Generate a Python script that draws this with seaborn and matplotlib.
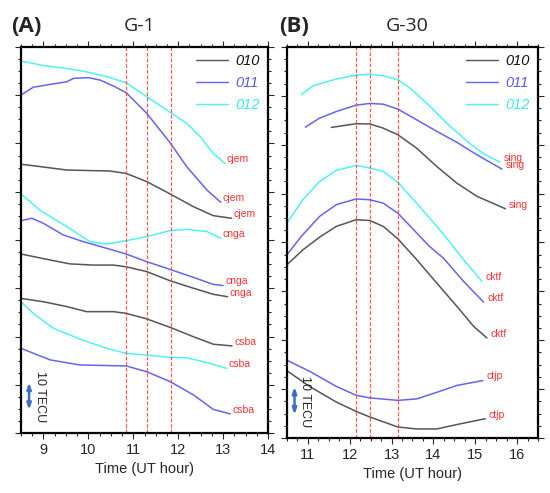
import matplotlib
matplotlib.use("Agg")
import matplotlib.pyplot as plt
import seaborn as sns
from matplotlib.lines import Line2D
from matplotlib.ticker import MultipleLocator

# ---- datos (TEC relativo, unidades arbitrarias) ----
# Panel A (G-1)
cjem_012_t = [8.5, 9.0, 9.52, 9.96, 10.41, 10.84, 11.3, 11.82, 12.19, 12.49, 12.78, 13.04]
cjem_012_v = [154.2, 152.3, 151.1, 149.7, 147.7, 145.2, 139.4, 132.9, 128.4, 122.8, 115.9, 111.8]
cjem_011_t = [8.5, 8.77, 9.15, 9.52, 9.67, 10.0, 10.26, 10.56, 10.84, 11.3, 11.82, 12.19, 12.64, 12.95]
cjem_011_v = [140.1, 143.3, 144.5, 145.6, 147.0, 147.3, 146.3, 143.8, 141.1, 132.5, 120.3, 110.4, 100.7, 95.6]
cjem_010_t = [8.5, 8.77, 9.52, 10.48, 10.84, 11.3, 11.82, 12.34, 12.78, 13.19]
cjem_010_v = [111.4, 110.8, 109.0, 108.6, 107.6, 104.2, 99.1, 93.8, 90.1, 89.0]

cnga_012_t = [8.5, 8.92, 9.52, 10.04, 10.41, 10.84, 11.3, 11.82, 12.19, 12.64, 12.95]
cnga_012_v = [99.1, 92.4, 85.5, 79.3, 78.3, 79.7, 81.4, 83.9, 84.4, 83.5, 80.7]
cnga_011_t = [8.5, 8.74, 9.0, 9.44, 9.89, 10.4, 10.84, 11.3, 11.82, 12.34, 12.78, 13.0]
cnga_011_v = [88.0, 89.0, 86.9, 82.1, 79.3, 76.6, 74.2, 71.0, 67.8, 64.5, 61.6, 61.1]
cnga_010_t = [8.5, 9.15, 9.59, 10.11, 10.56, 10.84, 11.3, 11.82, 12.34, 12.78, 13.1]
cnga_010_v = [74.2, 71.7, 70.1, 69.6, 69.6, 68.9, 66.9, 63.1, 60.0, 57.5, 56.5]

csba_010_t = [8.5, 9.0, 9.52, 9.96, 10.56, 10.84, 11.3, 11.82, 12.34, 12.78, 13.2]
csba_010_v = [55.8, 54.4, 52.4, 50.3, 50.3, 49.6, 47.3, 43.8, 39.9, 36.8, 36.1]
csba_012_t = [8.5, 8.77, 9.22, 9.89, 10.41, 10.84, 11.3, 11.82, 12.19, 12.64, 13.08]
csba_012_v = [54.4, 49.6, 43.4, 38.4, 35.1, 33.0, 32.3, 31.3, 31.2, 29.2, 26.8]
csba_011_t = [8.5, 9.15, 9.81, 10.56, 10.84, 11.3, 11.82, 12.34, 12.78, 13.16]
csba_011_v = [35.1, 30.3, 28.2, 27.9, 27.8, 25.4, 21.3, 15.8, 9.8, 7.9]

# Panel B (G-30)
sing_012_t = [10.84, 11.12, 11.68, 12.15, 12.48, 12.8, 13.15, 13.44, 13.92, 14.4, 14.88, 15.2, 15.59]
sing_012_v = [140.5, 144.1, 146.9, 148.5, 148.9, 148.2, 146.6, 143.2, 135.7, 127.5, 120.4, 116.3, 112.9]
sing_011_t = [10.94, 11.28, 11.68, 12.15, 12.48, 12.8, 13.15, 13.6, 14.08, 14.56, 15.04, 15.64]
sing_011_v = [127.2, 130.9, 133.6, 136.2, 136.9, 136.6, 134.6, 130.2, 125.5, 121.0, 115.9, 110.0]
sing_010_t = [11.56, 12.15, 12.48, 12.8, 13.15, 13.6, 14.08, 14.56, 15.04, 15.72]
sing_010_v = [127.1, 128.6, 128.5, 126.8, 124.1, 118.6, 111.1, 104.3, 98.9, 93.8]

cktf_012_t = [10.5, 10.88, 11.28, 11.68, 12.15, 12.48, 12.8, 13.15, 13.6, 14.08, 14.4, 14.72, 15.16]
cktf_012_v = [88.0, 97.5, 105.0, 109.5, 111.5, 110.5, 109.1, 104.6, 96.1, 86.6, 80.0, 73.0, 64.1]
cktf_011_t = [10.5, 10.84, 11.28, 11.68, 12.15, 12.48, 12.8, 13.15, 13.6, 13.9, 14.24, 14.72, 15.2]
cktf_011_v = [75.0, 82.5, 90.7, 95.5, 97.8, 97.5, 96.1, 92.0, 83.9, 78.5, 73.6, 64.1, 55.6]
cktf_010_t = [10.5, 10.88, 11.28, 11.68, 12.15, 12.48, 12.8, 13.15, 13.6, 14.08, 14.56, 14.96, 15.28]
cktf_010_v = [70.9, 77.0, 82.2, 86.6, 89.3, 89.0, 86.6, 81.5, 73.0, 63.4, 53.9, 45.7, 40.9]

ctjp_011_t = [10.5, 11.04, 11.68, 12.15, 12.48, 13.15, 13.6, 14.08, 14.56, 15.18]
ctjp_011_v = [31.8, 27.3, 21.1, 17.5, 16.4, 15.4, 16.0, 18.7, 21.5, 23.5]
ctjp_010_t = [10.5, 11.04, 11.68, 12.15, 12.48, 13.15, 13.6, 14.08, 14.56, 15.24]
ctjp_010_v = [27.5, 21.1, 14.7, 10.9, 8.6, 4.5, 3.7, 3.7, 5.5, 7.9]

PRN = ["010", "011", "012"]
vlines_a = [10.84, 11.30, 11.83]
vlines_b = [12.15, 12.48, 13.15]

COLORS = {"010": "#555555", "011": "#6464f0", "012": "#4ef2f2"}
TEXT_COLORS = {"010": "#111111", "011": "#5a5ae6", "012": "#3fe8e8"}

curves_a = [
    ("cjem", "012", cjem_012_t, cjem_012_v), ("cjem", "011", cjem_011_t, cjem_011_v),
    ("cjem", "010", cjem_010_t, cjem_010_v), ("cnga", "012", cnga_012_t, cnga_012_v),
    ("cnga", "011", cnga_011_t, cnga_011_v), ("cnga", "010", cnga_010_t, cnga_010_v),
    ("csba", "010", csba_010_t, csba_010_v), ("csba", "012", csba_012_t, csba_012_v),
    ("csba", "011", csba_011_t, csba_011_v),
]
curves_b = [
    ("sing", "012", sing_012_t, sing_012_v), ("sing", "011", sing_011_t, sing_011_v),
    ("sing", "010", sing_010_t, sing_010_v), ("cktf", "012", cktf_012_t, cktf_012_v),
    ("cktf", "011", cktf_011_t, cktf_011_v), ("cktf", "010", cktf_010_t, cktf_010_v),
    ("ctjp", "011", ctjp_011_t, ctjp_011_v), ("ctjp", "010", ctjp_010_t, ctjp_010_v),
]


def draw_panel(ax, curves, vlines, xlim, xticks, label_dx):
    for station, prn, t, v in curves:
        sns.lineplot(x=t, y=v, ax=ax, color=COLORS[prn], lw=1.1, sort=False)
        ax.annotate(station, xy=(t[-1], v[-1]), xytext=(label_dx, 3),
                    textcoords="offset points", ha="left", va="center",
                    fontsize=7.5, color="#ff3030")
    for x in vlines:
        ax.axvline(x, color="#ff3b3b", lw=0.9, ls=(0, (3, 1.5)), alpha=0.85)

    # flecha de escala 10 TECU
    x0 = xlim[0] + 0.18
    ax.annotate("", xy=(x0, 21), xytext=(x0, 9.5),
                arrowprops=dict(arrowstyle="<|-|>,head_length=0.35,head_width=0.12",
                                color="#3a6fc8", lw=1.8, shrinkA=0, shrinkB=0))
    ax.text(xlim[0] + 0.43, 15, "10 TECU", rotation=-90, ha="center", va="center",
            fontsize=9)

    ax.set_xlim(*xlim)
    ax.set_ylim(0, 160)
    ax.set_xticks(xticks)
    ax.xaxis.set_minor_locator(MultipleLocator(0.25))
    ax.yaxis.set_major_locator(MultipleLocator(20))
    ax.yaxis.set_minor_locator(MultipleLocator(5))
    ax.tick_params(which="both", direction="out", top=True, right=True,
                   labelleft=False, width=0.8, labelsize=10.5)
    ax.tick_params(which="major", length=4)
    ax.tick_params(which="minor", length=2.5)
    for s in ax.spines.values():
        s.set_linewidth(1.6)
        s.set_color("black")
    ax.set_xlabel("Time (UT hour)", fontsize=10.5, labelpad=3)
    ax.set_ylabel("")

    handles = [Line2D([], [], color=COLORS[p], lw=1.0) for p in PRN]
    leg = ax.legend(handles, PRN, loc="upper right", frameon=False,
                    bbox_to_anchor=(1.02, 1.015), handlelength=2.2,
                    handletextpad=0.5, labelspacing=0.55, fontsize=10.5)
    for txt, p in zip(leg.get_texts(), PRN):
        txt.set_color(TEXT_COLORS[p])
        txt.set_fontstyle("italic")


sns.set_style("ticks")
plt.rcParams["font.family"] = ["Liberation Sans", "DejaVu Sans"]

fig = plt.figure(figsize=(5.5, 4.93), dpi=100)
ax_a = fig.add_axes([21 / 550, 60 / 493, 247 / 550, 386 / 493])
ax_b = fig.add_axes([287 / 550, 55 / 493, 251 / 550, 391 / 493])

draw_panel(ax_a, curves_a, vlines_a, (8.5, 14.0), range(9, 15), 1.5)
draw_panel(ax_b, curves_b, vlines_b, (10.5, 16.5), range(11, 17), 2.5)

title_font = ["Open Sans", "DejaVu Sans"]
fig.text(11 / 550, 1 - 26 / 493, "(A)", fontsize=16, fontweight="bold",
         ha="left", va="center", family=title_font)
fig.text(140 / 550, 1 - 26 / 493, "G-1", fontsize=14, ha="center", va="center",
         family=title_font)
fig.text(279 / 550, 1 - 26 / 493, "(B)", fontsize=16, fontweight="bold",
         ha="left", va="center", family=title_font)
fig.text(407 / 550, 1 - 26 / 493, "G-30", fontsize=14, ha="center", va="center",
         family=title_font)

fig.savefig("out.png", dpi=100)
